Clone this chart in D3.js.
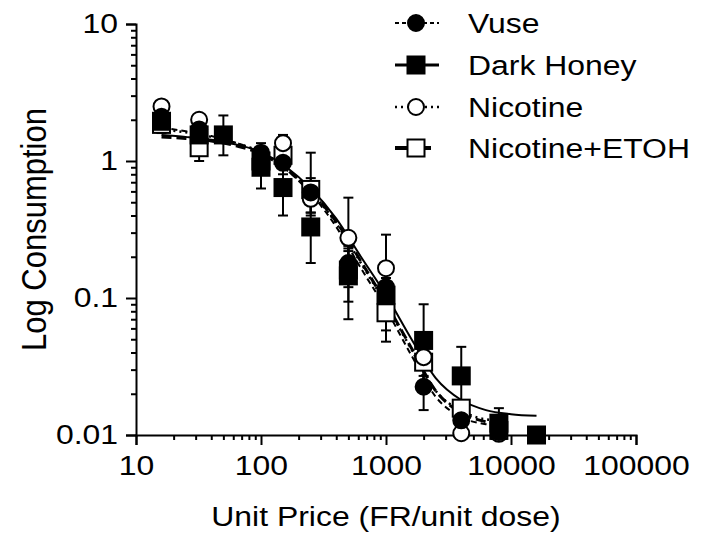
<!DOCTYPE html>
<html>
<head>
<meta charset="utf-8">
<script src="https://cdn.jsdelivr.net/npm/d3@7/dist/d3.min.js"></script>
<style>
	body { margin: 0; background: #fff; }
	text { font-family: "Liberation Sans", Arial, sans-serif; fill: #000; }
</style>
</head>
<body>
<div class="chart"></div>
<script>
// ---- data ----
var prices   = [16, 32, 100, 150, 250, 500, 1000, 2000, 4000, 8000];
var pricesDH = [16, 32, 50, 100, 150, 250, 500, 1000, 2000, 4000, 8000, 16000];

var vuseMean = [2.1, 1.7, 1.15, 0.97, 0.59, 0.18, 0.12, 0.0225, 0.0128, 0.0105];
var vuseLo   = [1.85, 1.4, 0.95, 0.8, 0.4, 0.12, 0.058, 0.0152, 0.011, 0.01];
var vuseHi   = [2.4, 2.0, 1.35, 1.15, 0.75, 0.24, 0.18, 0.03, 0.0145, 0.011];

var dhMean = [1.95, 1.55, 1.55, 0.9, 0.64, 0.33, 0.145, 0.105, 0.049, 0.027, 0.0122, 0.01];
var dhLo   = [1.7, 1.3, 1.1, 0.63, 0.4, 0.18, 0.07, 0.07, 0.021, 0.018, 0.01, 0.01];
var dhHi   = [2.25, 1.8, 2.15, 1.15, 0.88, 0.48, 0.22, 0.14, 0.09, 0.044, 0.0157, 0.0105];

var nicMean = [2.5, 2.0, 1.05, 1.35, 0.53, 0.275, 0.165, 0.037, 0.0103, 0.0102];
var nicLo   = [2.3, 1.8, 0.85, 1.15, 0.42, 0.2, 0.12, 0.03, 0.01, 0.01];
var nicHi   = [2.7, 2.2, 1.25, 1.55, 0.65, 0.54, 0.29, 0.045, 0.011, 0.0105];

var nicEMean = [1.85, 1.25, 1.0, 1.1, 0.62, 0.16, 0.078, 0.034, 0.0157, 0.0108];
var nicELo   = [1.6, 1.0, 0.8, 0.9, 0.42, 0.094, 0.048, 0.027, 0.0135, 0.01];
var nicEHi   = [2.1, 1.5, 1.2, 1.3, 1.15, 0.23, 0.11, 0.042, 0.018, 0.0115];

// fitted demand curves, read at these prices
var curveX   = [16, 25, 40, 63, 100, 160, 250, 400, 630, 1000, 1600, 2500, 4000, 6300, 8000];
var curveXDH = [16, 25, 40, 63, 100, 160, 250, 400, 630, 1000, 1600, 2500, 4000, 6300, 10000, 16000];
var vuseCurve = [1.75, 1.65, 1.52, 1.36, 1.15, 0.86, 0.58, 0.33, 0.165, 0.083, 0.038, 0.019, 0.0135, 0.012, 0.0118];
var dhCurve   = [1.55, 1.5, 1.43, 1.32, 1.16, 0.9, 0.63, 0.38, 0.2, 0.105, 0.05, 0.026, 0.018, 0.0152, 0.0142, 0.0138];
var nicCurve  = [1.7, 1.62, 1.5, 1.35, 1.16, 0.88, 0.6, 0.35, 0.18, 0.09, 0.042, 0.021, 0.015, 0.013, 0.0128];
var nicECurve = [1.5, 1.46, 1.4, 1.29, 1.13, 0.87, 0.6, 0.36, 0.185, 0.092, 0.043, 0.021, 0.0145, 0.0125, 0.012];

var seriesNames = ["Vuse", "Dark Honey", "Nicotine", "Nicotine+ETOH"];
var xTickValues = [10, 100, 1000, 10000, 100000];
var xTickLabels = ["10", "100", "1000", "10000", "100000"];
var yTickValues = [0.01, 0.1, 1, 10];
var yTickLabels = ["0.01", "0.1", "1", "10"];

// ---- layout ----
var width = 708, height = 546;
var plot = { left: 136, right: 636, top: 24, bottom: 435 };
var fontSize = 28, sx = 1.14;   // the original text is a little wider than tall

var svg = d3.select(".chart").append("svg")
	.attr("width", width)
	.attr("height", height);

var x = d3.scaleLog().domain([10, 100000]).range([plot.left, plot.right]);
var y = d3.scaleLog().domain([0.01, 10]).range([plot.bottom, plot.top]).clamp(true);

// series styles
var series = [
	{ name: seriesNames[0], px: prices,   mean: vuseMean, lo: vuseLo, hi: vuseHi, cx: curveX,   cy: vuseCurve, shape: "circle", fill: "#000", dash: "6,4",  lw: 2,   legDash: "4,3", legLw: 2 },
	{ name: seriesNames[1], px: pricesDH, mean: dhMean,   lo: dhLo,   hi: dhHi,   cx: curveXDH, cy: dhCurve,   shape: "square", fill: "#000", dash: null,   lw: 2,   legDash: null,  legLw: 3 },
	{ name: seriesNames[2], px: prices,   mean: nicMean,  lo: nicLo,  hi: nicHi,  cx: curveX,   cy: nicCurve,  shape: "circle", fill: "#fff", dash: "2,4",  lw: 2.5, legDash: "2,4", legLw: 2.5 },
	{ name: seriesNames[3], px: prices,   mean: nicEMean, lo: nicELo, hi: nicEHi, cx: curveX,   cy: nicECurve, shape: "square", fill: "#fff", dash: "10,5", lw: 3,   legDash: "14,8", legLw: 4 }
];

// ---- axes ----
function isMajor(v) { return Math.abs(Math.log10(v) - Math.round(Math.log10(v))) < 1e-6; }

var xAxisG = svg.append("g")
	.attr("transform", "translate(0," + plot.bottom + ")")
	.call(d3.axisBottom(x)
		.tickValues(x.ticks())
		.tickSize(10)
		.tickPadding(10)
		.tickFormat(function(d){ var i = xTickValues.indexOf(d); return i < 0 ? "" : xTickLabels[i]; }));

var yAxisG = svg.append("g")
	.attr("transform", "translate(" + plot.left + ",0)")
	.call(d3.axisLeft(y)
		.tickValues(y.ticks())
		.tickSize(10)
		.tickPadding(8)
		.tickFormat(function(d){ var i = yTickValues.indexOf(d); return i < 0 ? "" : yTickLabels[i]; }));

[xAxisG, yAxisG].forEach(function(g){
	g.select(".domain").attr("stroke", "#000").attr("stroke-width", 2);
	g.selectAll(".tick line").attr("stroke", "#000").attr("stroke-width", 2);
	g.selectAll(".tick text")
		.style("font-size", fontSize + "px")
		.attr("fill", "#000")
		.attr("transform", "scale(" + sx + ",1)");
});
yAxisG.selectAll(".tick text").attr("x", -18 / sx);
xAxisG.selectAll(".tick").filter(function(d){ return !isMajor(d); }).select("line").attr("y2", 5);
yAxisG.selectAll(".tick").filter(function(d){ return !isMajor(d); }).select("line").attr("x2", -5);

// axis titles
svg.append("text")
	.attr("transform", "translate(" + (plot.left + plot.right) / 2 + ",526) scale(" + sx + ",1)")
	.attr("text-anchor", "middle")
	.style("font-size", fontSize + "px")
	.text("Unit Price (FR/unit dose)");

svg.append("text")
	.attr("transform", "translate(46," + (plot.top + plot.bottom) / 2 + ") scale(" + sx + ",1) rotate(-90)")
	.attr("text-anchor", "middle")
	.style("font-size", "31px")
	.text("Log Consumption");

// ---- curves ----
var line = d3.line()
	.x(function(d){ return x(d[0]); })
	.y(function(d){ return y(d[1]); })
	.curve(d3.curveMonotoneX);

series.forEach(function(s){
	svg.append("path")
		.datum(d3.zip(s.cx, s.cy))
		.attr("d", line)
		.attr("fill", "none")
		.attr("stroke", "#000")
		.attr("stroke-width", s.lw)
		.attr("stroke-dasharray", s.dash);
});

// ---- error bars ----
var cap = 5;
series.forEach(function(s){
	var g = svg.append("g").attr("stroke", "#000").attr("stroke-width", 2);
	s.px.forEach(function(p, i){
		var cx = x(p);
		g.append("line").attr("x1", cx).attr("x2", cx).attr("y1", y(s.lo[i])).attr("y2", y(s.hi[i]));
		g.append("line").attr("x1", cx - cap).attr("x2", cx + cap).attr("y1", y(s.lo[i])).attr("y2", y(s.lo[i]));
		g.append("line").attr("x1", cx - cap).attr("x2", cx + cap).attr("y1", y(s.hi[i])).attr("y2", y(s.hi[i]));
	});
});

// ---- markers (open ones under the filled ones) ----
function drawMarker(g, shape, fill, cx, cy) {
	if (shape == "circle") {
		g.append("circle").attr("cx", cx).attr("cy", cy).attr("r", 8)
			.attr("fill", fill).attr("stroke", "#000").attr("stroke-width", 2);
	} else {
		g.append("rect").attr("x", cx - 8.5).attr("y", cy - 8.5).attr("width", 17).attr("height", 17)
			.attr("fill", fill).attr("stroke", "#000").attr("stroke-width", 2);
	}
}

[3, 2, 0, 1].forEach(function(k){
	var s = series[k];
	var g = svg.append("g");
	s.px.forEach(function(p, i){ drawMarker(g, s.shape, s.fill, x(p), y(s.mean[i])); });
});

// ---- legend ----
var legendRows = [23, 65, 107, 148];
series.forEach(function(s, i){
	var g = svg.append("g").attr("transform", "translate(0," + legendRows[i] + ")");
	g.append("line")
		.attr("x1", 395).attr("x2", 439).attr("y1", 0).attr("y2", 0)
		.attr("stroke", "#000").attr("stroke-width", s.legLw)
		.attr("stroke-dasharray", s.legDash);
	drawMarker(g, s.shape, s.fill, 416, 0);
	g.append("text")
		.attr("transform", "translate(468,10) scale(" + sx + ",1)")
		.style("font-size", fontSize + "px")
		.text(s.name);
});
</script>
</body>
</html>
